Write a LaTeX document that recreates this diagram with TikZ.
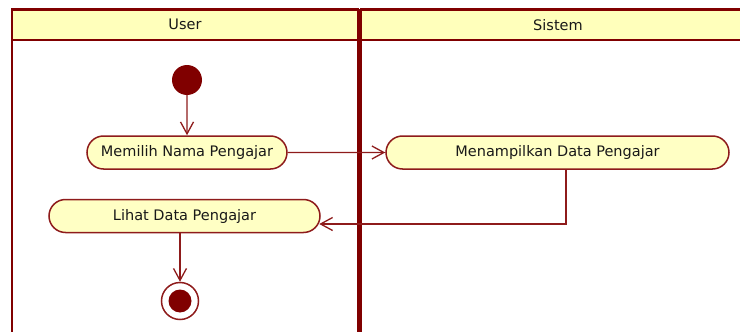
\documentclass[tikz,border=0pt]{standalone}
\usepackage{fontspec}
\setmainfont{DejaVu Sans}
\usetikzlibrary{arrows.meta}
\usetikzlibrary{shapes.misc}
\definecolor{lanered}{HTML}{800000}
\definecolor{lanehead}{HTML}{FFFFBB}
\definecolor{actfill}{HTML}{FFFFC4}
\definecolor{actline}{HTML}{8E1B1B}
\tikzset{
  lanetext/.style={text=black!90, font=\fontsize{14.5}{17}\selectfont},
  act/.style={rounded rectangle, draw=actline, fill=actfill, line width=1.5,
    minimum height=33, inner sep=0, lanetext},
  flow/.style={draw=actline, line width=1.3, -{Straight Barb[length=12,width=13]}},
}

\begin{document}
\begin{tikzpicture}[x=1pt,y=-1pt]
  \useasboundingbox (0,0) rectangle (740,332);
  % swimlanes
  \draw[lanered, line width=2.5] (12,9.5) rectangle (358,345);
  \draw[lanered, line width=2.5] (361,9.5) rectangle (750,345);
  \draw[lanered, line width=2.5, fill=lanehead] (12,9.5) rectangle (358,40)
    node (lu) [midway, lanetext] {User};
  \draw[lanered, line width=2.5, fill=lanehead] (361,9.5) rectangle (750,40)
    node (ls) [midway, lanetext, xshift=2.5] {Sistem};
  \draw[lanered, line width=5] (359.5,8.5) -- (359.5,345);

  % activities
  \node (st) [circle, fill=lanered, minimum size=30, inner sep=0] at (187,80) {};
  \node (mnp) [act, minimum width=200] at (187,152.5) {Memilih Nama Pengajar};
  \node (mdp) [act, minimum width=343] at (557.5,152.5) {Menampilkan Data Pengajar};
  \node (ldp) [act, minimum width=271] at (184.5,216) {Lihat Data Pengajar};
  \node (en) [circle, draw=actline, fill=white, line width=1.5, minimum size=37, inner sep=0] at (180,301) {};
  \fill[lanered] (en.center) circle (11.5);

  % flows
  \draw[flow] (st) -- (mnp);
  \draw[flow] (mnp) -- (mdp);
  \draw[flow] ([xshift=8.5]mdp.south) |- ([xshift=-1.5,yshift=-8]ldp.east);
  \draw[flow] (ldp.south -| en) -- (en);
\end{tikzpicture}
\end{document}
